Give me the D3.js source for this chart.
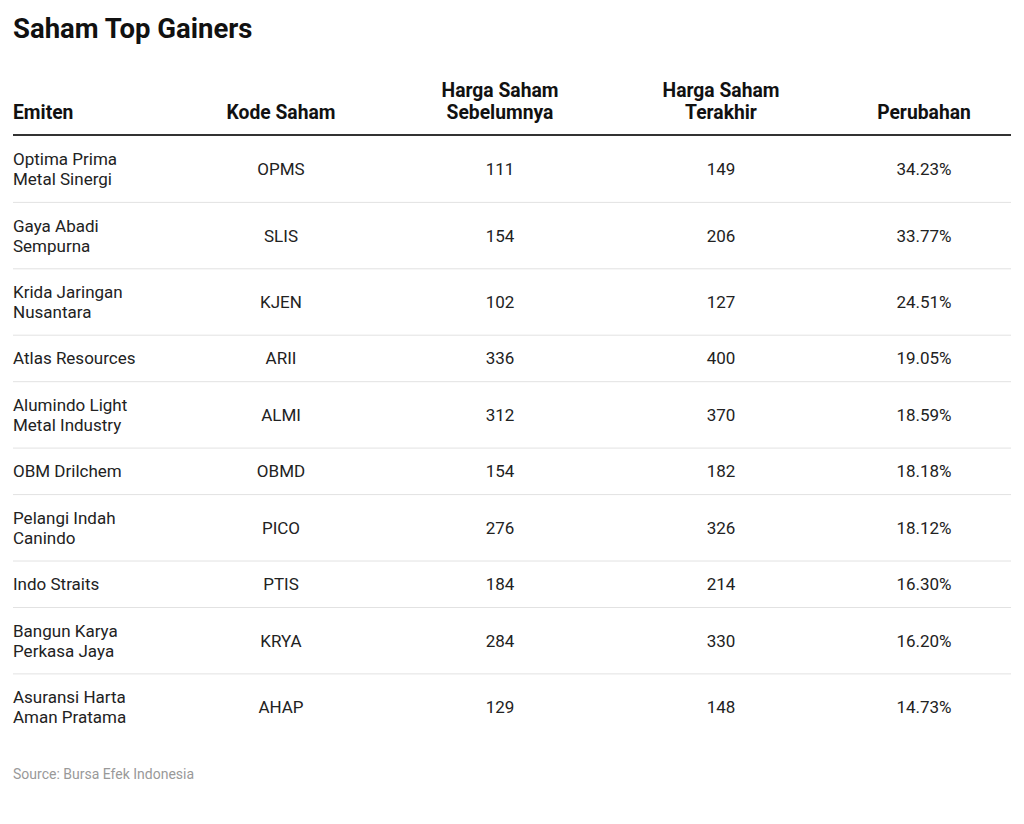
<!DOCTYPE html>
<html><head><meta charset="utf-8">
<script src="https://cdn.jsdelivr.net/npm/d3@7"></script>
<style>body{margin:0;background:#fff}</style></head>
<body><svg id="c" width="1024" height="824"></svg>
<script>
const headers = [["Emiten"],["Kode Saham"],["Harga Saham","Sebelumnya"],["Harga Saham","Terakhir"],["Perubahan"]];
const emiten = [["Optima Prima","Metal Sinergi"],["Gaya Abadi","Sempurna"],["Krida Jaringan","Nusantara"],["Atlas Resources"],["Alumindo Light","Metal Industry"],["OBM Drilchem"],["Pelangi Indah","Canindo"],["Indo Straits"],["Bangun Karya","Perkasa Jaya"],["Asuransi Harta","Aman Pratama"]];
const kode = ["OPMS","SLIS","KJEN","ARII","ALMI","OBMD","PICO","PTIS","KRYA","AHAP"];
const sebelumnya = [111,154,102,336,312,154,276,184,284,129];
const terakhir = [149,206,127,400,370,182,326,214,330,148];
const perubahan = ["34.23%","33.77%","24.51%","19.05%","18.59%","18.18%","18.12%","16.30%","16.20%","14.73%"];

const svg = d3.select("#c");
const F = "Roboto, sans-serif";
const colX = [13,281,500,721,924];
const anchors = ["start","middle","middle","middle","middle"];
svg.append("text").attr("x",13).attr("y",38).attr("font-family",F).attr("font-weight",700)
  .attr("font-size",27.5).attr("fill","#111").text("Saham Top Gainers");
headers.forEach((h,i)=>{
  h.forEach((t,j)=>{
    svg.append("text").attr("x",colX[i]).attr("y",119-(h.length-1-j)*22).attr("text-anchor",anchors[i])
      .attr("font-family",F).attr("font-weight",700).attr("font-size",19.3).attr("fill","#111").text(t);
  });
});
svg.append("line").attr("x1",13).attr("x2",1011).attr("y1",135).attr("y2",135).attr("stroke","#333").attr("stroke-width",2);
const heights = emiten.map(e=>e.length>1?66.4:46.5);
let y=136;
emiten.forEach((e,r)=>{
  const h=heights[r], cy=y+h/2;
  const g=svg.append("g").attr("font-family",F).attr("font-size",17).attr("fill","#222");
  e.forEach((t,j)=>g.append("text").attr("x",13).attr("y",cy+(j-(e.length-1)/2)*20).attr("dy","0.35em").text(t));
  [kode[r],sebelumnya[r],terakhir[r],perubahan[r]].forEach((v,i)=>
    g.append("text").attr("x",colX[i+1]).attr("y",cy).attr("dy","0.35em").attr("text-anchor","middle").text(v));
  y+=h;
  if(r<emiten.length-1) svg.append("line").attr("x1",13).attr("x2",1011).attr("y1",y).attr("y2",y).attr("stroke","#e2e2e2").attr("stroke-width",1);
});
svg.append("text").attr("x",13).attr("y",779).attr("font-family",F).attr("font-size",14).attr("fill","#999").text("Source: Bursa Efek Indonesia");
</script></body></html>
